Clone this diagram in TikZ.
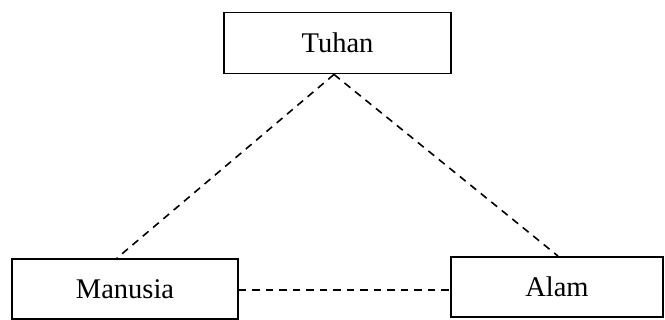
\documentclass[tikz,border=0pt]{standalone}
\usepackage{fontspec}
\setmainfont{Liberation Serif}
\begin{document}
\begin{tikzpicture}[x=1pt,y=-1pt,
  box/.style={draw=black,line width=1.9pt,fill=white,inner sep=0pt,font=\fontsize{28.5}{30}\selectfont},
  link/.style={line width=1.6pt,dash pattern=on 7.5pt off 6pt}]
\useasboundingbox (0,0) rectangle (665,320);
\node[box,minimum width=227pt,minimum height=61pt] (tuhan) at (337.5,43) {Tuhan};
\node[box,minimum width=226pt,minimum height=60pt] (manusia) at (125,289) {Manusia};
\node[box,minimum width=212pt,minimum height=60pt] (alam) at (557,287) {Alam};
\coordinate (mid) at ([yshift=-1pt]manusia.east);
\draw[link] ([xshift=-3.5pt]tuhan.south) -- ([xshift=-8pt]manusia.north);
\draw[link] ([xshift=-3.5pt]tuhan.south) -- ([xshift=1pt]alam.north);
\draw[link] (mid) -- (mid -| alam.west);
\end{tikzpicture}
\end{document}
